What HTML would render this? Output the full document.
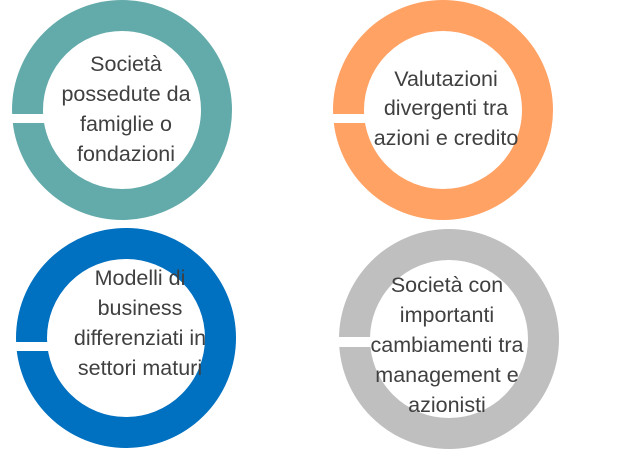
<!DOCTYPE html>
<html><head><style>
body{margin:0;background:#fff;width:622px;height:449px;overflow:hidden}
svg{display:block}
text{font-family:"Liberation Sans",sans-serif;font-size:21.5px;fill:#404040;text-anchor:middle}
</style></head><body>
<svg width="622" height="449" viewBox="0 0 622 449">
<circle cx="122" cy="110" r="94.5" fill="none" stroke="#63ABAA" stroke-width="31"/>
<rect x="8" y="114" width="40" height="9" fill="#fff"/>
<circle cx="443" cy="110" r="94.5" fill="none" stroke="#FFA264" stroke-width="31"/>
<rect x="329" y="114" width="40" height="9" fill="#fff"/>
<circle cx="126" cy="338" r="94.5" fill="none" stroke="#0070C0" stroke-width="31"/>
<rect x="12" y="342" width="40" height="9" fill="#fff"/>
<circle cx="449" cy="339" r="94.5" fill="none" stroke="#BFBFBF" stroke-width="31"/>
<rect x="335" y="337" width="40" height="10" fill="#fff"/>
<text x="126" y="71">Società</text>
<text x="126" y="101">possedute da</text>
<text x="126" y="131">famiglie o</text>
<text x="126" y="161">fondazioni</text>
<text x="446" y="86">Valutazioni</text>
<text x="446" y="115">divergenti tra</text>
<text x="446" y="145">azioni e credito</text>
<text x="140" y="285">Modelli di</text>
<text x="140" y="315">business</text>
<text x="140" y="345">differenziati in</text>
<text x="140" y="375">settori maturi</text>
<text x="447" y="292">Società con</text>
<text x="447" y="322">importanti</text>
<text x="447" y="352">cambiamenti tra</text>
<text x="447" y="382">management e</text>
<text x="447" y="412">azionisti</text>
</svg>
</body></html>
